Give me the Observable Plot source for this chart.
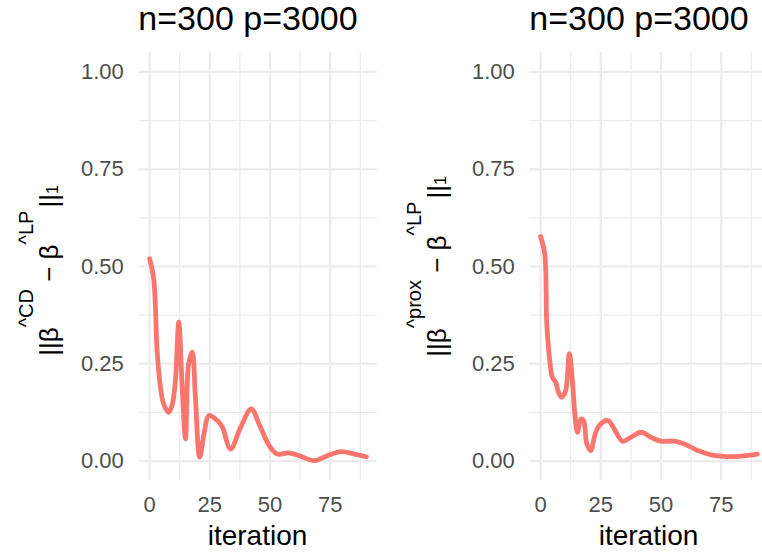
<!DOCTYPE html>
<html><head><meta charset="utf-8">
<script src="https://cdn.jsdelivr.net/npm/d3@7"></script>
<script src="https://cdn.jsdelivr.net/npm/@observablehq/plot@0.6"></script>
<style>
html,body{margin:0;padding:0;background:#fff;overflow:hidden}
#fig{position:relative;width:762px;height:552px;overflow:hidden;background:#fff}
#fig svg{position:absolute;top:0;overflow:visible}
</style></head><body><div id="fig"></div>
<script>
// ---- data ----
const cdIteration = [0, 1.7, 3.1, 4.5, 5.8, 7.9, 9.3, 10.7, 12.1, 13.4, 14.9, 16.2, 17.7, 19, 20.8, 22.8, 24.6, 28.1, 30.2, 33.6, 37.8, 42.2, 45.4, 49.6, 53, 57.9, 62.8, 68.3, 73.9, 79.5, 85, 90];
const cdDistance = [0.52, 0.468, 0.284, 0.19, 0.147, 0.125, 0.143, 0.207, 0.357, 0.207, 0.057, 0.25, 0.28, 0.164, 0.01, 0.078, 0.117, 0.104, 0.087, 0.031, 0.087, 0.134, 0.096, 0.04, 0.018, 0.021, 0.012, 0.001, 0.014, 0.024, 0.018, 0.011];
const proxIteration = [0, 1.7, 2.5, 3.5, 4.9, 6.25, 7.4, 8.75, 10.4, 11.9, 13.2, 14.2, 15.3, 16.7, 17.8, 19.2, 20.8, 22.5, 24.3, 28, 30.5, 34, 37.5, 41.7, 45.8, 50, 55.5, 59.7, 65.3, 70.8, 76.4, 82, 90];
const proxDistance = [0.577, 0.533, 0.361, 0.276, 0.215, 0.203, 0.177, 0.164, 0.181, 0.276, 0.207, 0.121, 0.074, 0.108, 0.104, 0.044, 0.027, 0.066, 0.091, 0.104, 0.083, 0.051, 0.061, 0.074, 0.061, 0.051, 0.051, 0.044, 0.027, 0.016, 0.012, 0.012, 0.018];
const xTicks = [0, 25, 50, 75];
const xMinorTicks = [12.5, 37.5, 62.5, 87.5];
const yTicks = [0, 0.25, 0.5, 0.75, 1];
const yMinorTicks = [0.125, 0.375, 0.625, 0.875];
const panelTitles = ["n=300 p=3000", "n=300 p=3000"];
const xTitle = "iteration";
const methodLabels = ["CD", "prox"];
const referenceLabel = "LP";

const FONT = "'Liberation Sans', Arial, Helvetica, sans-serif";
const fig = document.getElementById("fig");

function panel(iter, dist, title, method, offsetX, labelX, labelY) {
  const data = iter.map((d, i) => ({iteration: d, distance: dist[i]}));
  const W = 381, ML = 138.3, MR = 4.3;
  const svg = Plot.plot({
    width: W, height: 552,
    marginLeft: ML, marginRight: MR, marginTop: 52, marginBottom: 72,
    style: {fontFamily: FONT, background: "transparent", overflow: "visible"},
    x: {domain: [-4.5, 94.5]},
    y: {domain: [-0.05, 1.05]},
    marks: [
      Plot.gridX(xMinorTicks, {stroke: "#EBEBEB", strokeOpacity: 1, strokeWidth: 1.1}),
      Plot.gridY(yMinorTicks, {stroke: "#EBEBEB", strokeOpacity: 1, strokeWidth: 1.1}),
      Plot.gridX(xTicks, {stroke: "#EBEBEB", strokeOpacity: 1, strokeWidth: 2.2}),
      Plot.gridY(yTicks, {stroke: "#EBEBEB", strokeOpacity: 1, strokeWidth: 2.2}),
      Plot.axisX(xTicks, {tickSize: 0, tickPadding: 16, fontSize: 22, color: "#4D4D4D", label: null}),
      Plot.axisY(yTicks, {tickSize: 0, tickPadding: 15, fontSize: 22, color: "#4D4D4D", label: null, tickFormat: d3.format(".2f")}),
      Plot.line(data, {x: "iteration", y: "distance", stroke: "#F8766D", strokeWidth: 4.8, curve: "catmull-rom"})
    ]
  });
  svg.style.left = offsetX + "px";
  const s = d3.select(svg);
  s.append("text").attr("x", ML).attr("y", 30).attr("text-anchor", "start")
    .attr("font-family", FONT).attr("font-size", 34).attr("fill", "#000").text(title);
  s.append("text").attr("x", (ML + (W - MR)) / 2).attr("y", 545).attr("text-anchor", "middle")
    .attr("font-family", FONT).attr("font-size", 28).attr("fill", "#000").text(xTitle);
  const t = s.append("text")
    .attr("transform", `translate(${labelX},${labelY}) rotate(-90)`)
    .attr("text-anchor", "middle").attr("font-family", FONT)
    .attr("font-size", 26).attr("fill", "#000").style("white-space", "pre");
  t.append("tspan").text("||β");
  t.append("tspan").attr("dy", -25).attr("font-size", 20).text("^" + method);
  t.append("tspan").attr("dy", 25).text(" − β");
  t.append("tspan").attr("dy", -25).attr("font-size", 20).text("^" + referenceLabel);
  t.append("tspan").attr("dy", 25).attr("dx", 3).text("||");
  t.append("tspan").attr("font-size", 16).text("1");
  fig.appendChild(svg);
}

panel(cdIteration, cdDistance, panelTitles[0], methodLabels[0], 0, 58, 270.5);
panel(proxIteration, proxDistance, panelTitles[1], methodLabels[1], 391, 55, 266.5);
</script></body></html>
